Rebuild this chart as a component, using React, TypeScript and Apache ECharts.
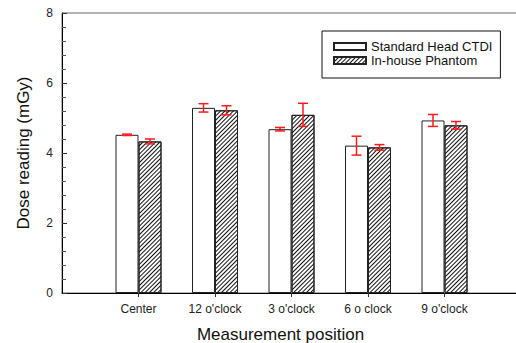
import React, { useEffect, useRef } from "react";
import * as echarts from "echarts";

// Measurement positions along the x axis
const categories = ["Center", "12 o'clock", "3 o'clock", "6 o clock", "9 o'clock"];

// Mean dose readings (mGy) and their standard deviations
const standardHead = [4.52, 5.29, 4.68, 4.21, 4.93];
const standardHeadErr = [0.02, 0.12, 0.05, 0.27, 0.17];
const inHouse = [4.33, 5.22, 5.09, 4.16, 4.79];
const inHouseErr = [0.07, 0.13, 0.33, 0.08, 0.11];

const yTicks = [0, 2, 4, 6, 8];

const BAR_W = 23;
const FONT = "Liberation Sans, Arial, sans-serif";

// Axis has one empty slot on each side so the groups sit between the frame edges
const axisCats = ["", ...categories, ""];
const pad = (arr: number[]) => ["-", ...arr, "-"];

function errorSeries(values: number[], errs: number[], offset: number) {
  const data = values.map((v, i) => [i + 1, v - errs[i], v + errs[i]]);
  return {
    type: "custom",
    z: 10,
    silent: true,
    data,
    renderItem: (_params: any, api: any) => {
      const lo = api.coord([api.value(0), api.value(1)]);
      const hi = api.coord([api.value(0), api.value(2)]);
      const x = lo[0] + offset;
      const cap = 5;
      const style = { stroke: "#ff1a1a", lineWidth: 1.5 };
      return {
        type: "group",
        children: [
          { type: "line", shape: { x1: x, y1: lo[1], x2: x, y2: hi[1] }, style },
          { type: "line", shape: { x1: x - cap, y1: lo[1], x2: x + cap, y2: lo[1] }, style },
          { type: "line", shape: { x1: x - cap, y1: hi[1], x2: x + cap, y2: hi[1] }, style },
        ],
      };
    },
  };
}

export default function App() {
  const ref = useRef<HTMLDivElement>(null);

  useEffect(() => {
    if (!ref.current) return;
    document.body.style.margin = "0";
    const chart = echarts.init(ref.current, undefined, { renderer: "svg" });

    const hatch = {
      symbol: "rect",
      symbolSize: 1,
      dashArrayX: [1, 0],
      dashArrayY: [1, 2],
      rotation: -Math.PI / 4,
      color: "#111",
      backgroundColor: "#ffffff",
    };

    chart.setOption({
      animation: false,
      backgroundColor: "#ffffff",
      textStyle: { fontFamily: FONT },
      grid: {
        left: 62,
        top: 13,
        right: -5,
        bottom: 50,
        outerBoundsMode: "none",
        show: true,
        borderColor: "#666",
        borderWidth: 1,
      },
      legend: {
        orient: "vertical",
        left: 322,
        top: 31,
        padding: [9, 8, 11, 11],
        borderColor: "#111",
        borderWidth: 1,
        itemWidth: 32,
        itemHeight: 7,
        itemGap: 1,
        itemTextGap: 5,
        icon: "rect",
        textStyle: { fontFamily: FONT, fontSize: 13, color: "#111", lineHeight: 13 },
        data: ["Standard Head CTDI", "In-house Phantom"],
      },
      xAxis: {
        type: "category",
        data: axisCats,
        boundaryGap: false,
        axisLine: { lineStyle: { color: "#000", width: 1 } },
        axisTick: {
          length: 4,
          interval: (i: number) => i >= 1 && i <= categories.length,
          lineStyle: { color: "#333" },
        },
        axisLabel: {
          interval: 0,
          margin: 10,
          fontSize: 12,
          color: "#222",
          fontFamily: FONT,
        },
        name: "Measurement position",
        nameLocation: "middle",
        nameGap: 33,
        nameTextStyle: { fontSize: 17, color: "#111", fontFamily: FONT, padding: [0, 22, 0, 0] },
        splitLine: { show: false },
      },
      yAxis: {
        type: "value",
        min: yTicks[0],
        max: yTicks[yTicks.length - 1],
        interval: 2,
        axisLine: { show: true, lineStyle: { color: "#000", width: 1 } },
        axisTick: { show: true, inside: true, length: 5, lineStyle: { color: "#333" } },
        minorTick: { show: true, splitNumber: 5, length: 4, lineStyle: { color: "#555" } },
        axisLabel: { margin: 9, fontSize: 12, color: "#222", fontFamily: FONT },
        splitLine: { show: false },
        name: "Dose reading (mGy)",
        nameLocation: "middle",
        nameGap: 30,
        nameTextStyle: { fontSize: 17, color: "#111", fontFamily: FONT },
      },
      series: [
        {
          name: "Standard Head CTDI",
          type: "bar",
          barWidth: BAR_W,
          barGap: "0%",
          data: pad(standardHead),
          itemStyle: { color: "#ffffff", borderColor: "#222", borderWidth: 1 },
        },
        {
          name: "In-house Phantom",
          type: "bar",
          barWidth: BAR_W,
          barGap: "0%",
          data: pad(inHouse),
          itemStyle: { color: "#ffffff", borderColor: "#222", borderWidth: 1, decal: hatch },
        },
        errorSeries(standardHead, standardHeadErr, -BAR_W / 2),
        errorSeries(inHouse, inHouseErr, BAR_W / 2),
      ],
    });

    return () => chart.dispose();
  }, []);

  return (
    <div
      ref={ref}
      style={{ width: 516, height: 343, overflow: "hidden" }}
    />
  );
}
